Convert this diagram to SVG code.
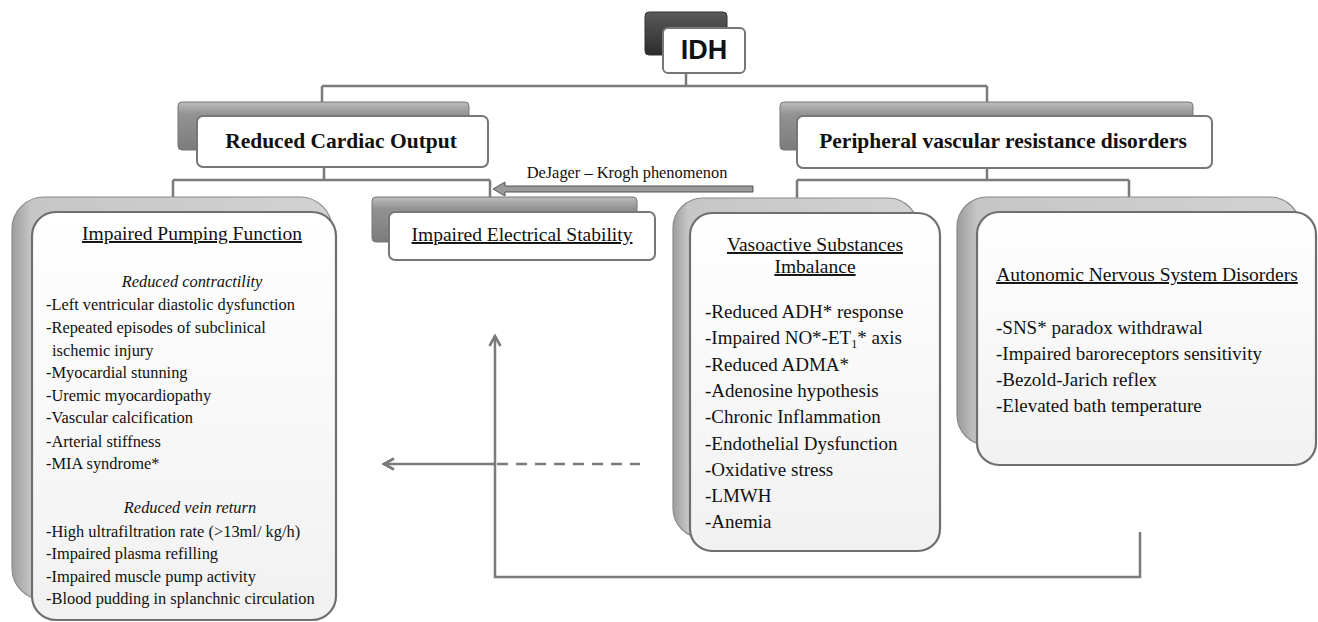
<svg xmlns="http://www.w3.org/2000/svg" width="1318" height="622" viewBox="0 0 1318 622">
<defs>
<linearGradient id="gDark" x1="0" y1="0" x2="0" y2="1"><stop offset="0" stop-color="#5a5a5a"/><stop offset="1" stop-color="#2c2c2c"/></linearGradient>
<linearGradient id="gMid" x1="0" y1="0" x2="0" y2="1"><stop offset="0" stop-color="#bdbdbd"/><stop offset="0.25" stop-color="#939393"/><stop offset="1" stop-color="#7c7c7c"/></linearGradient>
<linearGradient id="gBig" x1="0" y1="0" x2="1" y2="0"><stop offset="0" stop-color="#9c9c9c"/><stop offset="0.06" stop-color="#c6c6c6"/><stop offset="1" stop-color="#d2d2d2"/></linearGradient>
<linearGradient id="gFront" x1="0" y1="0" x2="0" y2="1"><stop offset="0" stop-color="#ffffff"/><stop offset="1" stop-color="#f1f1f1"/></linearGradient>
<marker id="chev" viewBox="0 0 14 14" refX="12" refY="7" markerWidth="14" markerHeight="14" markerUnits="userSpaceOnUse" orient="auto"><path d="M2,1.5 L12,7 L2,12.5" fill="none" stroke="#7a7a7a" stroke-width="2.6"/></marker>
<style>
.line{fill:none;stroke:#7a7a7a;stroke-width:2.5}
.sdark{fill:url(#gDark);stroke:#333;stroke-width:1}
.smid{fill:url(#gMid);stroke:#777;stroke-width:1}
.sbig{fill:url(#gBig);stroke:#8a8a8a;stroke-width:1.2}
.fbox{fill:#fff;stroke:#777;stroke-width:2}
.fbig{fill:url(#gFront);stroke:#6f6f6f;stroke-width:2.2}
.t{font-family:"Liberation Serif","Times New Roman",serif;fill:#111;font-size:16.4px}
.hd{font-weight:bold;font-size:21.5px}
.ul{text-decoration:underline;font-size:19.5px}
.it{font-style:italic}
.big{font-size:19px}
</style>
</defs>

<g id="connectors">
<path class="line" d="M686,73 V86 M322,86 H987 M322,86 V102 M987,86 V102"/>
<path class="line" d="M324,167 V180 M173,180 H490 M173,180 V198 M490,180 V198"/>
<path class="line" d="M987,168 V180 M797,180 H1129 M797,180 V198 M1129,180 V198"/>
<path class="line" d="M495,464 H384" marker-end="url(#chev)"/>
<path class="line" d="M497,464 H640" stroke-dasharray="11,8"/>
<path class="line" d="M1140,532 V577 H495 V336" marker-end="url(#chev)"/>
<polygon points="753,186 505,186 505,182 493,189 505,196 505,192 753,192" fill="#9a9a9a" stroke="#555" stroke-width="1"/>
<text class="t" x="627" y="178" text-anchor="middle" font-size="13.8">DeJager – Krogh phenomenon</text>
</g>

<g id="idh">
<rect class="sdark" x="645" y="12" width="82" height="43" rx="4"/>
<rect class="fbox" x="663" y="28" width="82" height="45" rx="5"/>
<text x="704" y="59" text-anchor="middle" font-family="Liberation Sans, Arial, sans-serif" font-weight="bold" font-size="27" fill="#111">IDH</text>
</g>

<g id="rco">
<rect class="smid" x="178" y="102" width="291" height="48" rx="4"/>
<rect class="fbox" x="197" y="116" width="291" height="51" rx="6"/>
<text class="t hd" x="341" y="148" text-anchor="middle">Reduced Cardiac Output</text>
</g>

<g id="pvr">
<rect class="smid" x="780" y="102" width="413" height="48" rx="4"/>
<rect class="fbox" x="797" y="116" width="415" height="52" rx="6"/>
<text class="t hd" x="1003" y="148" text-anchor="middle">Peripheral vascular resistance disorders</text>
</g>

<g id="ies">
<rect class="smid" x="372" y="197" width="265" height="45" rx="4"/>
<rect class="fbox" x="389" y="212" width="266" height="48" rx="6"/>
<text class="t ul" x="522" y="241" text-anchor="middle">Impaired Electrical Stability</text>
</g>

<g id="ipf">
<rect class="sbig" x="12" y="197" width="320" height="403" rx="32"/>
<rect class="fbig" x="32" y="212" width="304" height="408" rx="24"/>
<text class="t ul" x="192" y="240" text-anchor="middle">Impaired Pumping Function</text>
<text class="t it" x="192" y="287" text-anchor="middle">Reduced  contractility</text>
<text class="t" x="46" y="310">-Left ventricular diastolic dysfunction</text>
<text class="t" x="46" y="333">-Repeated episodes of subclinical</text>
<text class="t" x="52" y="356">ischemic injury</text>
<text class="t" x="46" y="378">-Myocardial stunning</text>
<text class="t" x="46" y="401">-Uremic myocardiopathy</text>
<text class="t" x="46" y="423">-Vascular calcification</text>
<text class="t" x="46" y="447">-Arterial stiffness</text>
<text class="t" x="46" y="469">-MIA  syndrome*</text>
<text class="t it" x="190" y="513" text-anchor="middle">Reduced vein return</text>
<text class="t" x="46" y="537">-High ultrafiltration rate (&gt;13ml/ kg/h)</text>
<text class="t" x="46" y="559">-Impaired plasma refilling</text>
<text class="t" x="46" y="582">-Impaired muscle pump activity</text>
<text class="t" x="46" y="604">-Blood pudding in splanchnic circulation</text>
</g>

<g id="vsi">
<rect class="sbig" x="673" y="198" width="245" height="340" rx="30"/>
<rect class="fbig" x="690" y="213" width="250" height="338" rx="22"/>
<text class="t ul" x="815" y="251" text-anchor="middle">Vasoactive Substances</text>
<text class="t ul" x="815" y="273" text-anchor="middle">Imbalance</text>
<text class="t big" x="705" y="318">-Reduced ADH* response</text>
<text class="t big" x="705" y="344">-Impaired NO*-ET<tspan font-size="12" dy="4">1</tspan><tspan dy="-4">* axis</tspan></text>
<text class="t big" x="705" y="371">-Reduced ADMA*</text>
<text class="t big" x="705" y="397">-Adenosine hypothesis</text>
<text class="t big" x="705" y="423">-Chronic Inflammation</text>
<text class="t big" x="705" y="450">-Endothelial Dysfunction</text>
<text class="t big" x="705" y="476">-Oxidative stress</text>
<text class="t big" x="705" y="502">-LMWH</text>
<text class="t big" x="705" y="528">-Anemia</text>
</g>

<g id="ans">
<rect class="sbig" x="957" y="197" width="343" height="248" rx="30"/>
<rect class="fbig" x="977" y="212" width="339" height="253" rx="22"/>
<text class="t ul" x="1147" y="281" text-anchor="middle">Autonomic Nervous System Disorders</text>
<text class="t big" x="996" y="334">-SNS* paradox withdrawal</text>
<text class="t big" x="996" y="360">-Impaired baroreceptors sensitivity</text>
<text class="t big" x="996" y="386">-Bezold-Jarich reflex</text>
<text class="t big" x="996" y="412">-Elevated bath temperature</text>
</g>
</svg>
